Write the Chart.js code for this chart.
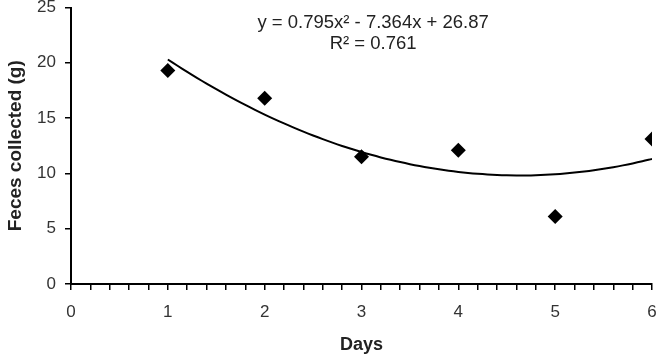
<!DOCTYPE html>
<html><head><meta charset="utf-8">
<script src="https://cdn.jsdelivr.net/npm/chart.js@4/dist/chart.umd.min.js"></script>
<style>html,body{margin:0;padding:0;background:#fff}#wrap{width:660px;height:356px}</style>
</head><body><div id="wrap"><canvas id="c" width="660" height="356"></canvas></div>
<script>
const days = [1, 2, 3, 4, 5, 6];
const feces = [19.3, 16.8, 11.5, 12.1, 6.1, 13.1];
const trendCoef = [0.795, -7.364, 26.87]; // y = a x^2 + b x + c (from the chart's equation)
const eqLines = ['y = 0.795x\u00B2 - 7.364x + 26.87', 'R\u00B2 = 0.761'];
const yTicks = [0, 5, 10, 15, 20, 25];
const xTicks = [0, 1, 2, 3, 4, 5, 6];

const trend = [];
for (let i = 0; i <= 50; i++) {
  const x = 1 + i * 0.1;
  trend.push({x: x, y: trendCoef[0]*x*x + trendCoef[1]*x + trendCoef[2]});
}

const FONT = '"Liberation Sans", Arial, sans-serif';

const eqPlugin = {
  id: 'eq',
  afterDatasetsDraw(chart) {
    const {ctx, scales} = chart;
    ctx.save();
    ctx.fillStyle = '#222';
    ctx.font = '18.5px ' + FONT;
    ctx.textAlign = 'center';
    ctx.textBaseline = 'middle';
    const cx = scales.x.getPixelForValue(3.12);
    ctx.fillText(eqLines[0], cx, scales.y.getPixelForValue(23.6));
    ctx.fillText(eqLines[1], cx, scales.y.getPixelForValue(21.7));
    ctx.restore();
  }
};

new Chart(document.getElementById('c'), {
  type: 'scatter',
  data: {
    datasets: [
      {
        data: days.map((d, i) => ({x: d, y: feces[i]})),
        pointStyle: 'rectRot', pointRadius: 7.5, pointHoverRadius: 7.5,
        backgroundColor: '#000', borderColor: '#000', borderWidth: 0
      },
      {
        type: 'line',
        data: trend, showLine: true, pointRadius: 0,
        borderColor: '#000', borderWidth: 2, fill: false, tension: 0.4
      }
    ]
  },
  options: {
    responsive: false, animation: false,
    layout: {padding: {top: -3, right: 8, left: 0, bottom: 0}},
    plugins: {legend: {display: false}, tooltip: {enabled: false}},
    scales: {
      x: {
        type: 'linear', min: 0, max: 6,
        border: {color: '#000', width: 2},
        grid: {drawOnChartArea: false, color: '#000', tickLength: 6, lineWidth: 1.5},
        afterBuildTicks(ax) {
          const t = [];
          for (let i = 0; i <= 30; i++) t.push({value: i * 0.2});
          ax.ticks = t;
        },
        afterFit(ax) { ax.height = 72; ax.paddingLeft = 0; ax.paddingRight = 0; },
        ticks: {
          autoSkip: false, maxRotation: 0, padding: 12, color: '#333',
          font: {family: FONT, size: 17},
          callback(v) {
            const r = Math.round(v);
            return (Math.abs(v - r) < 1e-6 && xTicks.includes(r)) ? String(r) : '';
          }
        },
        title: {display: true, text: 'Days', color: '#222', padding: {top: 8, bottom: 0},
          font: {family: FONT, size: 18, weight: 'bold'}}
      },
      y: {
        min: 0, max: 25,
        border: {color: '#000', width: 2},
        grid: {drawOnChartArea: false, color: '#000', tickLength: 6, lineWidth: 1.5},
        afterBuildTicks(ax) { ax.ticks = yTicks.map(v => ({value: v})); },
        afterFit(ax) { ax.width = 71; ax.paddingTop = 0; ax.paddingBottom = 0; },
        ticks: {
          padding: 9, color: '#333',
          font: {family: FONT, size: 17}
        },
        title: {display: true, text: 'Feces collected (g)', color: '#222', padding: {top: 4, bottom: 4},
          font: {family: FONT, size: 19, weight: 'bold'}}
      }
    }
  },
  plugins: [eqPlugin]
});
</script></body></html>
